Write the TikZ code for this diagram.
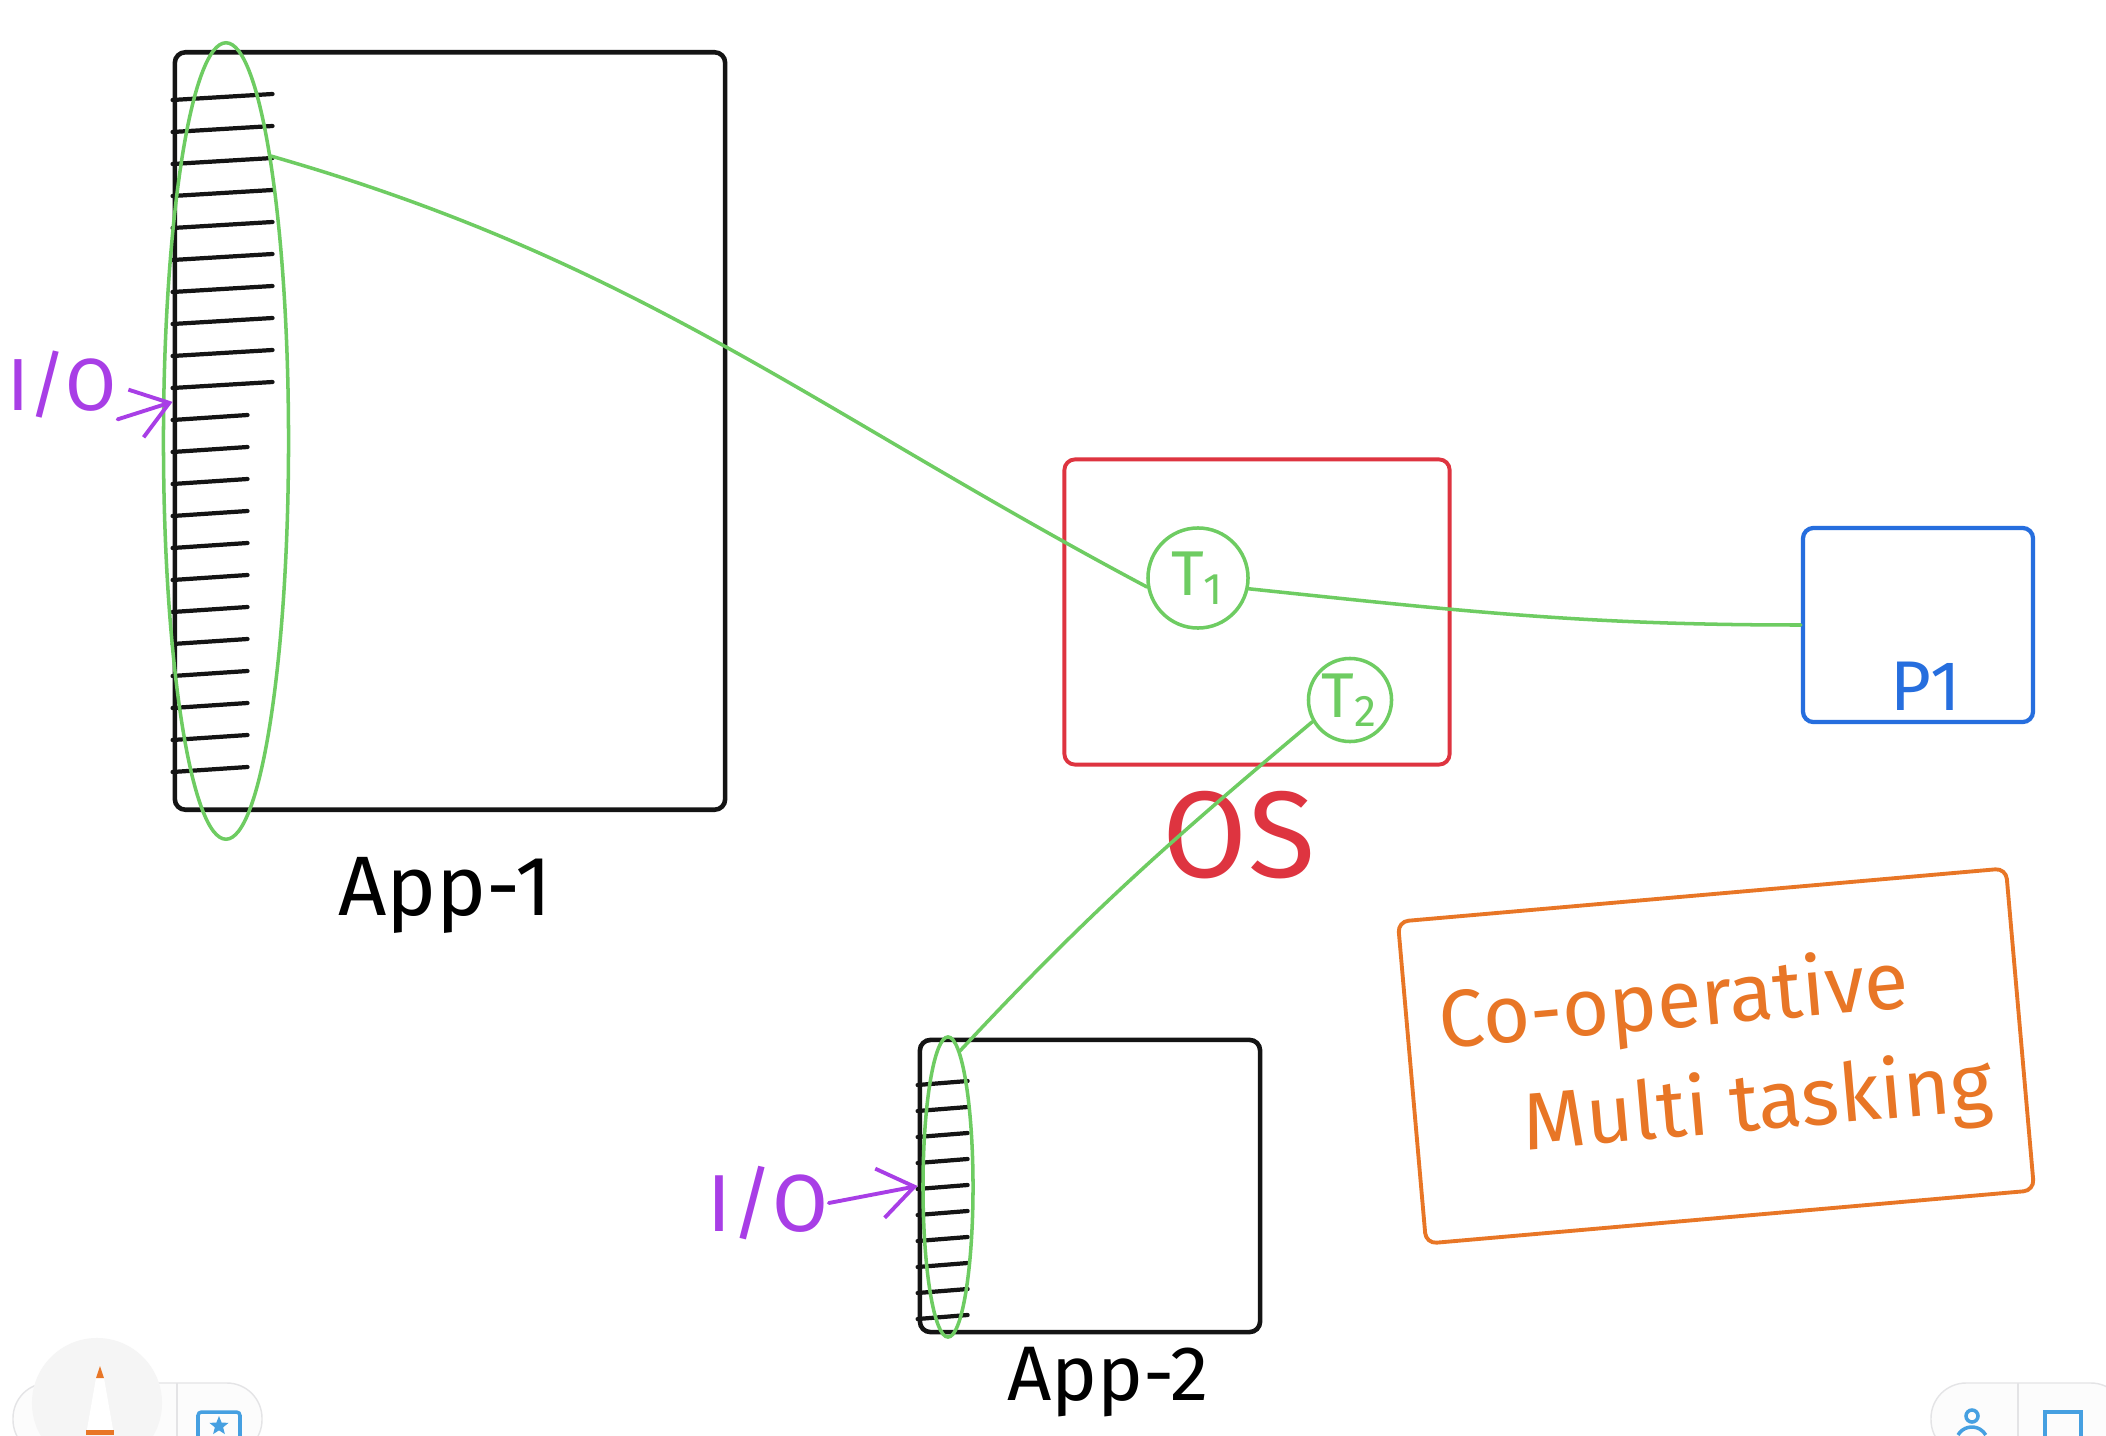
\documentclass[tikz,border=0pt]{standalone}
\usepackage{fontspec}
\setmainfont{Fira Sans}
\usetikzlibrary{arrows.meta,positioning,shapes.geometric}
\definecolor{inkblack}{RGB}{20,20,20}
\definecolor{inkgreen}{RGB}{110,204,98}
\definecolor{inkred}{RGB}{222,52,64}
\definecolor{inkblue}{RGB}{38,110,222}
\definecolor{inkorange}{RGB}{232,118,38}
\definecolor{inkpurple}{RGB}{168,62,230}
\definecolor{uiblue}{RGB}{70,160,225}
\definecolor{uigray}{RGB}{228,228,230}
\tikzset{
  appbox/.style={
    rectangle,
    rounded corners=3pt,
    draw=inkblack,
    line width=1.3pt
  },
  osbox/.style={
    rectangle,
    rounded corners=3pt,
    draw=inkred,
    line width=1.1pt
  },
  cpubox/.style={
    rectangle,
    rounded corners=3pt,
    draw=inkblue,
    line width=1.2pt
  },
  notebox/.style={
    rectangle,
    rounded corners=3pt,
    draw=inkorange,
    text=inkorange,
    line width=1.1pt,
    rotate=5,
    align=left,
    font=\fontsize{23}{31}\selectfont
  },
  thread/.style={
    circle,
    draw=inkgreen,
    text=inkgreen,
    line width=1pt,
    inner sep=0pt,
    font=\fontsize{18}{20}\selectfont
  },
  stack/.style={ellipse, draw=inkgreen, line width=1pt, inner sep=0pt},
  lbl/.style={inner sep=0pt},
  rung/.style={draw=inkblack, line width=1.2pt, line cap=round},
  link/.style={draw=inkgreen, line width=1pt, line cap=round},
  ioarrow/.style={-{Straight Barb[length=3.5mm,width=5mm,line width=1.1pt]}, draw=inkpurple, line width=1.1pt, line cap=round}
}
\begin{document}
\begin{tikzpicture}[x=0.01cm, y=0.01cm, node distance=0.5cm]
    \path[use as bounding box, fill=white] (0,0) rectangle (2106,1435);

    \node[appbox, minimum width=5.5cm, minimum height=7.57cm] (app1) at (450,1004) {};
    \node[appbox, minimum width=3.4cm, minimum height=2.92cm] (app2) at (1090,249) {};
    \node[osbox, minimum width=3.85cm, minimum height=3.05cm] (osbox) at (1257,823) {};
    \node[cpubox, minimum width=2.3cm, minimum height=1.94cm] (cpu) at (1918,810) {};
    \node[notebox, minimum width=6.1cm, minimum height=3.23cm] (coop) at (1716,379) {Co-operative\\\hspace{0.75cm}Multi tasking};

    \foreach \y in {1335,1303,...,1047}
      \draw[rung] (app1.west |- 0,\y) -- ++(100,6);
    \foreach \y in {1015,983,...,663}
      \draw[rung] (app1.west |- 0,\y) -- ++(75,5);
    \foreach \y in {350,324,...,116}
      \draw[rung] (app2.west |- 0,\y) -- ++(50,4);

    \node[stack, minimum width=1.25cm, minimum height=7.96cm] (stack1) at (226,994) {};
    \node[stack, minimum width=0.5cm, minimum height=3cm] (stack2) at (948,248) {};

    \node[thread, minimum size=1cm] (t1) at (1198,857) {T\textsubscript{1}};
    \node[thread, minimum size=0.83cm] (t2) at (1350,735) {T\textsubscript{2}};

    \node[lbl, below=0.45cm of app1, xshift=-0.05cm, font=\fontsize{24}{26}\selectfont] (app1lbl) {App-1};
    \node[lbl, font=\fontsize{22}{24}\selectfont] (app2lbl) at (1108,53) {App-2};
    \node[lbl, text=inkred, below=0.24cm of osbox, xshift=-0.18cm, font=\fontsize{35}{38}\selectfont] (oslbl) {OS};
    \node[lbl, text=inkblue, font=\fontsize{20}{22}\selectfont] (cpulbl) at (1926,749) {P1};
    \node[lbl, text=inkpurple, font=\fontsize{21}{24}\selectfont] (io1) at (62,1050) {I/O};
    \node[lbl, text=inkpurple, font=\fontsize{23}{26}\selectfont] (io2) at (768,232) {I/O};

    \draw[link] (stack1.81) to[out=-16,in=152] (t1.190);
    \draw[link] (t1.-12) to[out=-6,in=180] (cpu.west);
    \draw[link] (t2.210) to[out=-140,in=47] (stack2.85);

    \draw[ioarrow] (io1.south east) -- (app1.174);
    \draw[ioarrow] (io2.east) -- (app2.west);

    % toolbars of the drawing app
    \draw[uigray, fill=gray!2, rounded corners=10pt] (13,-20) rectangle (262,52);
    \draw[uigray] (177,-20) -- (177,52);
    \fill[gray!8] (97,32) circle (0.65cm);
    \fill[white] (86,0) -- (96,57) -- (104,57) -- (114,0) -- cycle;
    \fill[inkorange] (96,57) -- (100,69) -- (104,57) -- cycle;
    \fill[inkorange] (86,0) rectangle (114,5);
    \draw[uiblue, line width=1pt, rounded corners=1pt] (198,-5) rectangle (240,23);
    \node[star, star points=5, star point ratio=2.3, fill=uiblue, inner sep=0pt, minimum size=0.2cm] (staricon) at (219,9) {};
    \draw[uigray, fill=gray!2, rounded corners=10pt] (1931,-20) rectangle (2126,52);
    \draw[uigray] (2018,-20) -- (2018,52);
    \draw[uiblue, line width=1pt] (1972,19) circle (0.06cm);
    \draw[uiblue, line width=1pt] (1958,0) arc[start angle=150, end angle=30, radius=0.16cm];
    \draw[uiblue, line width=1pt] (2045,-5) rectangle (2081,23);
\end{tikzpicture}
\end{document}
